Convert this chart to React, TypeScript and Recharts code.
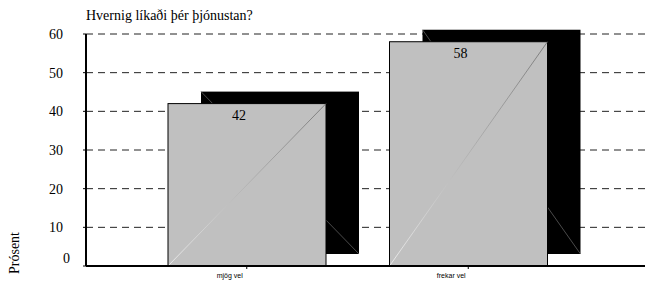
import { BarChart, Bar, XAxis, YAxis, CartesianGrid } from "recharts";

const categories = ["mjög vel", "frekar vel"];
const percents = [42, 58];
const yTicks = [0, 10, 20, 30, 40, 50, 60];

const data = categories.map((name, i) => ({ name, value: percents[i] }));

const serif = "Liberation Serif, Times New Roman, Times, serif";
const sans = "Liberation Sans, Arial, Helvetica, sans-serif";

// 3d-ish bar: black slab behind, grey face in front with a diagonal
function ShadowBar(props: any) {
  const { x, y, width, height, index } = props;
  const dx = 33;
  const dy = -12;
  const gid = `diag-${index}`;
  return (
    <g>
      <defs>
        <linearGradient id={gid} x1="0" y1="1" x2="1" y2="0">
          <stop offset="0%" stopColor="#f4f4f4" />
          <stop offset="100%" stopColor="#6a6a6a" />
        </linearGradient>
      </defs>
      <rect x={x + dx} y={y + dy} width={width} height={height} fill="#000" />
      <line x1={x + dx} y1={y + dy} x2={x + dx + width} y2={y + dy + height} stroke="#6a6a6a" strokeWidth={0.7} />
      <rect x={x} y={y} width={width} height={height} fill="#c0c0c0" stroke="#000" strokeWidth={1} />
      <line x1={x} y1={y + height} x2={x + width} y2={y} stroke={`url(#${gid})`} strokeWidth={0.8} />
    </g>
  );
}

function ValueLabel(props: any) {
  const { x, y, width, value } = props;
  return (
    <text x={x + width / 2 - 8} y={y + 11} dy="0.35em" textAnchor="middle" fontFamily={serif} style={{ fontFamily: serif }} fontSize={14} fill="#000">
      {value}
    </text>
  );
}

function YTick(props: any) {
  const { x, y, payload } = props;
  const zero = payload.value === 0;
  return (
    <text x={x + (zero ? 7 : 0)} y={y + (zero ? -8 : 0)} dy="0.35em" textAnchor="end" fontFamily={serif} style={{ fontFamily: serif }} fontSize={14} fill="#000">
      {payload.value}
    </text>
  );
}

function XTick(props: any) {
  const { x, y, payload } = props;
  return (
    <text x={x - 17} y={y} dy="0.71em" textAnchor="middle" fontFamily={sans} style={{ fontFamily: sans }} fontSize={7} fill="#000">
      {payload.value}
    </text>
  );
}

export default function App() {
  return (
    <div style={{ position: "relative", width: 645, height: 273, fontFamily: serif }}>
      <div
        style={{
          position: "absolute",
          left: 78,
          top: 0,
          fontSize: 14,
          lineHeight: "16px",
          whiteSpace: "nowrap",
        }}
      >
        Hvernig líkaði þér þjónustan?
      </div>
      <div
        style={{
          position: "absolute",
          left: 7,
          top: 245,
          fontSize: 14,
          lineHeight: "14px",
          whiteSpace: "nowrap",
          transform: "translate(-50%, -50%) rotate(-90deg)",
        }}
      >
        Prósent
      </div>
      <BarChart width={645} height={273} data={data} margin={{ top: 26, right: 0, bottom: 0, left: 0 }}>
        <CartesianGrid vertical={false} strokeDasharray="7 5" stroke="#222" />
        <XAxis
          dataKey="name"
          height={15}
          padding={{ left: 50, right: 74 }}
          axisLine={{ stroke: "#000", strokeWidth: 2 }}
          tickLine={{ stroke: "#000" }}
          tickSize={3}
          tickMargin={4}
          tick={<XTick />}
          interval={0}
        />
        <YAxis
          width={78}
          domain={[0, 60]}
          ticks={yTicks}
          axisLine={{ stroke: "#000", strokeWidth: 2 }}
          tickLine={{ stroke: "#000" }}
          tickSize={3}
          tickMargin={20}
          tick={<YTick />}
          interval={0}
        />
        <Bar dataKey="value" barSize={158} isAnimationActive={false} shape={<ShadowBar />} label={<ValueLabel />} />
      </BarChart>
    </div>
  );
}
